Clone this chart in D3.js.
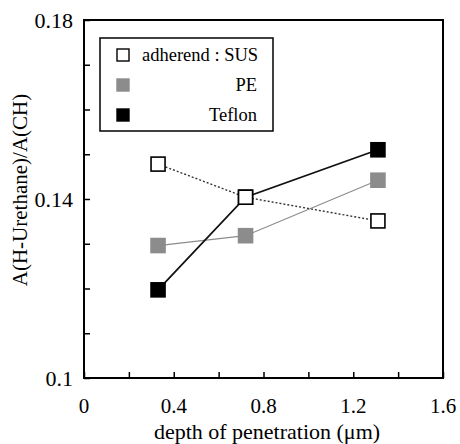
<!DOCTYPE html>
<html>
<head>
<meta charset="utf-8">
<script src="https://cdn.jsdelivr.net/npm/d3@7"></script>
<style>
  body { margin: 0; background: #fff; }
  svg text { font-family: "Liberation Serif", "DejaVu Serif", serif; fill: #000; }
</style>
</head>
<body>
<svg width="460" height="444"></svg>
<script>
var depth = [0.33, 0.72, 1.31];
var sus = [0.1478, 0.1404, 0.1351];
var pe = [0.1296, 0.1318, 0.1442];
var teflon = [0.1197, 0.1404, 0.1510];
var xTicks = [0, 0.4, 0.8, 1.2, 1.6];
var yTicks = [0.1, 0.14, 0.18];
var yTickLabels = ["0.1", "0.14", "0.18"];

var series = [
  {name: "adherend : SUS", values: sus, fill: "#fff", line: "#333", width: 1.4, dash: "2,2", anchor: "start"},
  {name: "PE", values: pe, fill: "#8c8c8c", line: "#8c8c8c", width: 1.2, dash: null, anchor: "end"},
  {name: "Teflon", values: teflon, fill: "#000", line: "#111", width: 1.8, dash: null, anchor: "end"}
];

var svg = d3.select("svg"),
    pLeft = 84, pRight = 443, pTop = 20, pBottom = 378;

var x = d3.scaleLinear().domain([0, 1.6]).range([pLeft, pRight]);
var y = d3.scaleLinear().domain([0.1, 0.18]).range([pBottom, pTop]);

// frame
svg.append("rect")
  .attr("x", pLeft).attr("y", pTop)
  .attr("width", pRight - pLeft).attr("height", pBottom - pTop)
  .attr("fill", "none").attr("stroke", "#000").attr("stroke-width", 2);

// x axis, ticks inward
var xAxis = svg.append("g").attr("transform", "translate(0," + pBottom + ")")
  .call(d3.axisBottom(x).tickValues(d3.range(0, 1.61, 0.2)).tickSize(-6).tickFormat(""));
xAxis.select(".domain").remove();
xAxis.selectAll("line").attr("stroke-width", 1.5);
svg.append("g").selectAll("text").data(xTicks).enter().append("text")
  .attr("x", function(d) { return x(d); })
  .attr("y", 413)
  .attr("text-anchor", "middle")
  .attr("font-size", 21)
  .text(function(d) { return d === 0 ? "0" : d3.format(".1f")(d); });

// y axis, ticks inward
var yAxis = svg.append("g").attr("transform", "translate(" + pLeft + ",0)")
  .call(d3.axisLeft(y).tickValues(d3.range(0.1, 0.1801, 0.01)).tickSize(-6).tickFormat(""));
yAxis.select(".domain").remove();
yAxis.selectAll("line").attr("stroke-width", 1.5);
svg.append("g").selectAll("text").data(yTicks).enter().append("text")
  .attr("x", 73)
  .attr("y", function(d) { return y(d) + 7.5; })
  .attr("text-anchor", "end")
  .attr("font-size", 22)
  .text(function(d, i) { return yTickLabels[i]; });

// axis titles
svg.append("text")
  .attr("x", 267).attr("y", 438.5)
  .attr("text-anchor", "middle").attr("font-size", 22)
  .text("depth of penetration (\u03bcm)");
svg.append("text")
  .attr("transform", "translate(27,190) rotate(-90)")
  .attr("text-anchor", "middle").attr("font-size", 21)
  .text("A(H-Urethane)/A(CH)");

// lines
var line = d3.line()
  .x(function(d, i) { return x(depth[i]); })
  .y(function(d) { return y(d); });

series.forEach(function(s) {
  svg.append("path")
    .attr("d", line(s.values))
    .attr("fill", "none")
    .attr("stroke", s.line)
    .attr("stroke-width", s.width)
    .attr("stroke-dasharray", s.dash);
});

// markers (Teflon under SUS at the shared point)
var size = 14;
[series[1], series[2], series[0]].forEach(function(s) {
  svg.append("g").selectAll("rect").data(s.values).enter().append("rect")
    .attr("x", function(d, i) { return x(depth[i]) - size / 2; })
    .attr("y", function(d) { return y(d) - size / 2; })
    .attr("width", size).attr("height", size)
    .attr("fill", s.fill)
    .attr("stroke", s.fill === "#fff" ? "#000" : s.fill)
    .attr("stroke-width", 1.6);
});

// legend
var lg = svg.append("g");
lg.append("rect")
  .attr("x", 100).attr("y", 38).attr("width", 173).attr("height", 93)
  .attr("fill", "#fff").attr("stroke", "#000").attr("stroke-width", 1.5);
series.forEach(function(s, i) {
  var cy = 55 + i * 30;
  lg.append("rect")
    .attr("x", 123 - 6).attr("y", cy - 6)
    .attr("width", 12).attr("height", 12)
    .attr("fill", s.fill)
    .attr("stroke", s.fill === "#fff" ? "#000" : s.fill)
    .attr("stroke-width", 1.4);
  lg.append("text")
    .attr("x", s.anchor === "start" ? 142 : 257)
    .attr("y", cy + 6)
    .attr("text-anchor", s.anchor)
    .attr("font-size", 18.5)
    .text(s.name);
});
</script>
</body>
</html>
